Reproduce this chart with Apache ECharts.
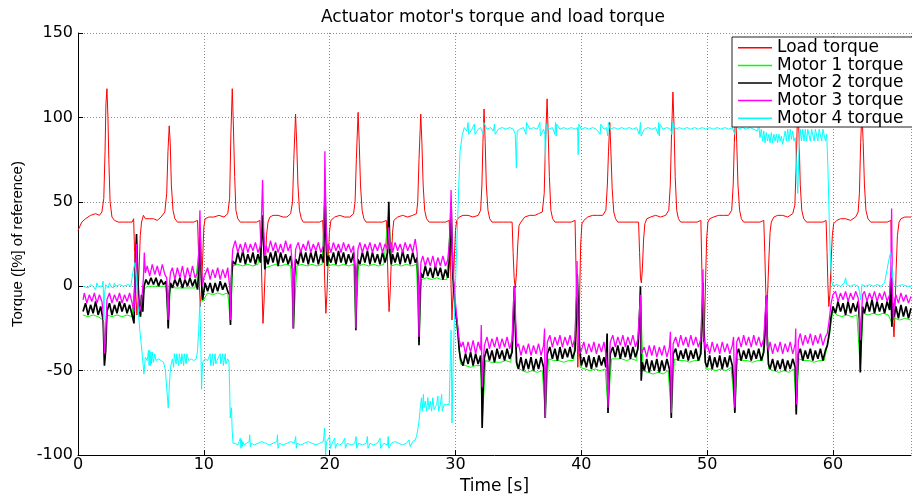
<!DOCTYPE html>
<html>
<head>
<meta charset="utf-8">
<script src="https://cdn.jsdelivr.net/npm/echarts@6/dist/echarts.min.js"></script>
<style>
  html, body { margin: 0; padding: 0; background: #fff; }
  #chart { width: 912px; height: 500px; }
</style>
</head>
<body>
<div id="chart"></div>
<script>
// time [s], torque [% of reference]
const loadTorque = [
  [0,33],[0.3,38],[0.6,40],[1.0,42],[1.4,43],[1.7,42],[1.9,44],[2.05,52],[2.15,80],[2.22,108],[2.3,117],[2.38,100],[2.45,75],[2.55,50],[2.7,41],[2.9,39],[3.2,38],[3.6,38],[4.0,38],[4.3,38],
  [4.42,40],[4.5,20],[4.6,-5],[4.68,-17],[4.78,-5],[4.88,15],[4.95,30],[5.05,38],[5.2,42],[5.35,40],[5.5,39],[5.7,40],[6.0,40],[6.3,39],[6.6,41],[6.9,44],[7.05,55],[7.15,80],[7.25,95],[7.33,85],[7.42,60],[7.55,45],[7.7,40],[7.9,38],[8.3,38],[8.8,38],[9.2,38],
  [9.5,39],[9.58,20],[9.65,0],[9.72,-12],[9.8,-5],[9.9,15],[10.0,35],[10.1,40],[10.4,41],[10.8,41],[11.2,42],[11.6,41],[11.9,43],[12.05,52],[12.15,90],[12.26,117],[12.35,95],[12.45,65],[12.55,45],[12.7,40],[12.9,38],[13.3,38],[13.8,38],[14.2,38],
  [14.45,39],[14.55,20],[14.62,0],[14.7,-22],[14.78,-10],[14.88,10],[14.98,30],[15.1,38],[15.25,41],[15.5,42],[15.9,42],[16.3,41],[16.6,41],[16.9,43],[17.05,50],[17.15,75],[17.29,102],[17.38,85],[17.48,60],[17.6,45],[17.75,40],[17.9,38],[18.3,38],[18.8,38],[19.2,38],
  [19.45,39],[19.55,20],[19.62,0],[19.7,-16],[19.78,-5],[19.88,15],[19.98,32],[20.1,39],[20.4,41],[20.8,42],[21.2,41],[21.6,41],[21.9,43],[22.02,50],[22.12,75],[22.26,103],[22.35,85],[22.45,60],[22.58,45],[22.72,40],[22.9,38],[23.3,38],[23.8,38],[24.2,38],
  [24.5,39],[24.58,20],[24.65,0],[24.72,-15],[24.8,-5],[24.9,15],[25.0,32],[25.1,39],[25.4,41],[25.8,42],[26.2,41],[26.6,42],[26.9,43],[27.0,50],[27.1,75],[27.24,102],[27.33,85],[27.43,60],[27.55,45],[27.7,40],[27.9,38],[28.3,38],[28.8,38],[29.2,38],
  [29.5,39],[29.58,20],[29.65,0],[29.72,-20],[29.8,-5],[29.9,15],[30.0,33],[30.1,39],[30.3,41],[30.6,42],[31.0,42],[31.4,41],[31.8,42],[32.0,45],[32.1,60],[32.18,85],[32.27,105],[32.36,85],[32.45,60],[32.58,45],[32.72,40],[32.9,38],[33.3,38],[33.8,38],[34.2,38],
  [34.5,38],[34.58,20],[34.66,5],[34.75,-1],[34.85,8],[34.95,25],[35.05,36],[35.2,38],[35.5,41],[35.9,42],[36.3,42],[36.6,43],[36.9,44],[37.05,55],[37.15,85],[37.28,111],[37.37,90],[37.46,65],[37.58,45],[37.72,40],[37.9,38],[38.3,38],[38.8,38],[39.2,38],
  [39.5,39],[39.58,10],[39.65,-25],[39.72,-48],[39.8,-30],[39.88,0],[39.95,25],[40.05,37],[40.2,39],[40.5,41],[40.9,42],[41.3,42],[41.7,42],[41.95,45],[42.07,60],[42.16,80],[42.26,97],[42.35,80],[42.45,58],[42.58,44],[42.72,40],[42.9,38],[43.3,38],[43.8,38],[44.2,38],
  [44.55,38],[44.63,20],[44.7,5],[44.77,2],[44.85,10],[44.95,28],[45.05,37],[45.2,40],[45.5,41],[45.9,42],[46.3,41],[46.7,42],[46.95,45],[47.07,60],[47.17,90],[47.28,115],[47.37,95],[47.46,65],[47.58,45],[47.72,40],[47.9,38],[48.3,38],[48.8,38],[49.2,38],
  [49.5,39],[49.58,10],[49.65,-20],[49.72,-33],[49.8,-20],[49.88,5],[49.96,28],[50.06,38],[50.2,40],[50.5,41],[50.9,42],[51.3,42],[51.7,42],[51.95,45],[52.07,60],[52.16,85],[52.26,104],[52.35,85],[52.45,60],[52.58,45],[52.72,40],[52.9,38],[53.3,38],[53.8,38],[54.2,38],
  [54.5,39],[54.58,20],[54.65,0],[54.72,-14],[54.8,-5],[54.9,15],[55.0,32],[55.1,38],[55.3,41],[55.6,42],[56.0,42],[56.4,41],[56.8,43],[56.97,48],[57.07,70],[57.2,108],[57.3,90],[57.4,60],[57.52,45],[57.68,40],[57.9,38],[58.3,38],[58.8,38],[59.2,38],
  [59.45,39],[59.53,20],[59.6,0],[59.67,-12],[59.75,-5],[59.85,15],[59.95,30],[60.05,37],[60.3,39],[60.6,40],[61.0,40],[61.4,39],[61.8,41],[62.0,44],[62.1,55],[62.2,85],[62.3,103],[62.4,85],[62.5,60],[62.62,45],[62.78,40],[63.0,38],[63.4,38],[63.9,38],[64.3,38],
  [64.6,39],[64.68,10],[64.76,-20],[64.85,-30],[64.93,-15],[65.02,10],[65.12,30],[65.25,38],[65.4,40],[65.7,41],[66.0,41],[66.2,41]
];

const motor1 = [
  [0.4,-17],[0.8,-18],[1.2,-17],[1.6,-18],[2.0,-20],[2.1,-45],[2.3,-17],[2.7,-18],[3.1,-17],[3.5,-18],[3.9,-17],[4.3,-18],[4.55,8],[4.65,28],[4.8,-12],[5.0,-18],[5.25,-2],
  [5.5,0],[5.9,0],[6.3,0],[6.7,0],[7.0,0],[7.17,-24],[7.35,0],[7.7,-1],[8.1,-1],[8.5,-1],[8.9,-1],[9.3,-1],[9.7,28],[9.9,-9],[10.3,-4],[10.7,-5],[11.1,-4],[11.5,-5],[11.9,-4],[12.12,-22],
  [12.3,12],[12.7,13],[13.1,12],[13.5,13],[13.9,12],[14.3,13],[14.67,38],[14.9,11],[15.3,12],[15.7,13],[16.1,12],[16.5,13],[16.9,12],[17.12,-24],[17.4,12],[17.8,13],[18.2,12],[18.6,13],[19.0,12],[19.4,13],[19.63,55],
  [19.9,12],[20.3,13],[20.7,12],[21.1,13],[21.5,12],[21.9,13],[22.08,-25],[22.3,12],[22.7,13],[23.1,12],[23.5,13],[23.9,12],[24.3,13],[24.7,45],[24.9,12],[25.3,13],[25.7,12],[26.1,13],[26.5,12],[26.9,13],[27.1,-33],
  [27.3,4],[27.7,5],[28.1,4],[28.5,5],[28.9,4],[29.3,4],[29.65,45],[29.9,-8],[30.2,-30],[30.4,-46],[30.8,-47],[31.2,-48],[31.6,-47],[32.0,-47],[32.12,-82],[32.4,-44],[32.8,-45],[33.2,-45],[33.6,-45],[34.0,-44],[34.4,-45],
  [34.68,-3],[34.9,-48],[35.3,-50],[35.7,-51],[36.1,-50],[36.5,-51],[36.9,-50],[37.13,-76],[37.4,-43],[37.8,-44],[38.2,-44],[38.6,-45],[39.0,-44],[39.4,-44],[39.68,4],[39.9,-48],[40.3,-49],[40.7,-50],[41.1,-49],[41.5,-50],[41.9,-49],
  [42.12,-73],[42.4,-43],[42.8,-43],[43.2,-43],[43.6,-44],[44.0,-43],[44.4,-44],[44.7,-3],[44.9,-50],[45.3,-51],[45.7,-52],[46.1,-51],[46.5,-52],[46.9,-50],[47.15,-76],[47.4,-43],[47.8,-44],[48.2,-44],[48.6,-45],[49.0,-44],[49.4,-44],
  [49.67,0],[49.9,-49],[50.3,-49],[50.7,-50],[51.1,-49],[51.5,-50],[51.9,-48],[52.2,-73],[52.4,-43],[52.8,-44],[53.2,-44],[53.6,-45],[54.0,-44],[54.4,-44],[54.7,-8],[54.9,-49],[55.3,-50],[55.7,-51],[56.1,-50],[56.5,-51],[56.9,-49],
  [57.08,-74],[57.3,-43],[57.7,-44],[58.1,-44],[58.5,-45],[58.9,-44],[59.3,-44],[59.7,-30],[60.0,-14],[60.3,-17],[60.7,-18],[61.1,-17],[61.5,-18],[61.9,-17],[62.17,-49],[62.4,-16],[62.8,-17],[63.2,-16],[63.6,-17],[64.0,-16],[64.4,-17],
  [64.68,-22],[64.9,-19],[65.3,-20],[65.7,-19],[66.2,-20]
];

const motor2 = [
  [0.4,-15],[0.6,-10],[0.8,-17],[1.0,-11],[1.2,-16],[1.4,-9],[1.6,-17],[1.8,-12],[2.0,-20],[2.1,-47],[2.2,-38],[2.3,-15],[2.5,-10],[2.7,-17],[2.9,-11],[3.1,-16],[3.3,-9],[3.5,-15],[3.7,-10],[3.9,-16],[4.1,-11],[4.3,-17],
  [4.45,-22],[4.55,10],[4.65,31],[4.75,5],[4.85,-10],[4.95,-18],[5.05,-5],[5.15,-15],[5.25,0],[5.4,4],
  [5.6,1],[5.8,5],[6.0,1],[6.2,5],[6.4,0],[6.6,4],[6.8,1],[7.0,3],[7.1,-10],[7.17,-25],[7.25,-5],[7.35,2],
  [7.5,-1],[7.7,4],[7.9,0],[8.1,5],[8.3,-1],[8.5,4],[8.7,0],[8.9,5],[9.1,0],[9.3,4],[9.5,-2],[9.6,10],[9.7,32],[9.8,5],[9.9,-8],[10.0,-3],[10.1,2],
  [10.3,-3],[10.5,2],[10.7,-4],[10.9,2],[11.1,-3],[11.3,3],[11.5,-2],[11.7,2],[11.9,-3],[12.05,-5],[12.12,-23],[12.2,5],[12.3,15],
  [12.5,13],[12.7,20],[12.9,14],[13.1,21],[13.3,13],[13.5,19],[13.7,14],[13.9,20],[14.1,13],[14.3,19],[14.5,14],[14.6,30],[14.67,42],[14.75,25],[14.85,10],[14.95,18],
  [15.1,13],[15.3,20],[15.5,14],[15.7,21],[15.9,12],[16.1,20],[16.3,14],[16.5,19],[16.7,13],[16.9,18],[17.05,10],[17.12,-25],[17.2,5],[17.3,16],
  [17.5,13],[17.7,21],[17.9,14],[18.1,20],[18.3,13],[18.5,20],[18.7,14],[18.9,21],[19.1,13],[19.3,19],[19.5,14],[19.58,35],[19.63,60],[19.7,30],[19.8,12],[19.9,18],
  [20.1,14],[20.3,20],[20.5,13],[20.7,21],[20.9,14],[21.1,20],[21.3,13],[21.5,19],[21.7,14],[21.9,20],[22.02,10],[22.08,-26],[22.15,5],[22.25,16],
  [22.4,13],[22.6,20],[22.8,14],[23.0,21],[23.2,13],[23.4,20],[23.6,14],[23.8,19],[24.0,13],[24.2,20],[24.4,14],[24.6,20],[24.7,50],[24.78,20],[24.9,13],[25.0,19],
  [25.2,14],[25.4,20],[25.6,13],[25.8,21],[26.0,14],[26.2,19],[26.4,13],[26.6,20],[26.8,14],[26.95,17],[27.05,0],[27.1,-35],[27.18,-5],[27.25,8],
  [27.4,5],[27.6,12],[27.8,6],[28.0,11],[28.2,5],[28.4,12],[28.6,6],[28.8,11],[29.0,4],[29.2,10],[29.4,5],[29.55,20],[29.65,50],[29.72,25],[29.8,5],[29.9,-5],[30.0,-15],[30.1,-20],[30.2,-28],[30.3,-38],[30.4,-43],
  [30.6,-47],[30.8,-40],[31.0,-46],[31.2,-39],[31.4,-47],[31.6,-40],[31.8,-46],[32.0,-41],[32.08,-55],[32.12,-84],[32.2,-60],[32.3,-42],
  [32.5,-37],[32.7,-44],[32.9,-38],[33.1,-45],[33.3,-37],[33.5,-43],[33.7,-38],[33.9,-44],[34.1,-37],[34.3,-43],[34.5,-39],[34.6,-20],[34.68,0],[34.76,-25],[34.85,-45],
  [35.0,-49],[35.2,-42],[35.4,-50],[35.6,-43],[35.8,-49],[36.0,-42],[36.2,-50],[36.4,-43],[36.6,-49],[36.8,-42],[37.0,-48],[37.08,-60],[37.13,-78],[37.2,-55],[37.3,-40],
  [37.5,-36],[37.7,-43],[37.9,-37],[38.1,-44],[38.3,-36],[38.5,-43],[38.7,-37],[38.9,-42],[39.1,-36],[39.3,-43],[39.5,-38],[39.6,-20],[39.68,7],[39.75,-10],[39.85,-35],[40.0,-47],
  [40.2,-42],[40.4,-48],[40.6,-41],[40.8,-49],[41.0,-42],[41.2,-48],[41.4,-41],[41.6,-47],[41.8,-42],[41.95,-48],[42.05,-28],[42.12,-75],[42.2,-55],[42.3,-40],
  [42.5,-36],[42.7,-42],[42.9,-35],[43.1,-43],[43.3,-36],[43.5,-42],[43.7,-35],[43.9,-43],[44.1,-36],[44.3,-42],[44.5,-37],[44.62,-20],[44.7,0],[44.76,-56],[44.85,-45],
  [45.0,-50],[45.2,-43],[45.4,-51],[45.6,-44],[45.8,-50],[46.0,-43],[46.2,-51],[46.4,-44],[46.6,-50],[46.8,-43],[47.0,-49],[47.1,-60],[47.15,-78],[47.22,-55],[47.3,-40],
  [47.5,-37],[47.7,-44],[47.9,-38],[48.1,-43],[48.3,-37],[48.5,-44],[48.7,-38],[48.9,-43],[49.1,-37],[49.3,-44],[49.5,-40],[49.6,-20],[49.67,2],[49.74,-25],[49.85,-45],
  [50.0,-48],[50.2,-41],[50.4,-49],[50.6,-42],[50.8,-48],[51.0,-41],[51.2,-49],[51.4,-42],[51.6,-48],[51.8,-41],[52.0,-47],[52.12,-58],[52.2,-75],[52.28,-55],[52.35,-40],
  [52.5,-37],[52.7,-44],[52.9,-38],[53.1,-43],[53.3,-37],[53.5,-44],[53.7,-38],[53.9,-43],[54.1,-37],[54.3,-44],[54.5,-39],[54.62,-25],[54.7,-6],[54.77,-30],[54.87,-46],
  [55.0,-49],[55.2,-43],[55.4,-50],[55.6,-44],[55.8,-49],[56.0,-43],[56.2,-50],[56.4,-44],[56.6,-49],[56.8,-43],[57.0,-48],[57.04,-60],[57.08,-76],[57.15,-55],[57.25,-40],
  [57.4,-37],[57.6,-44],[57.8,-38],[58.0,-43],[58.2,-37],[58.4,-44],[58.6,-38],[58.8,-43],[59.0,-37],[59.2,-44],[59.4,-38],[59.55,-35],[59.7,-28],[59.85,-18],[60.0,-12],
  [60.2,-16],[60.4,-9],[60.6,-15],[60.8,-10],[61.0,-17],[61.2,-9],[61.4,-16],[61.6,-10],[61.8,-15],[62.0,-9],[62.1,-20],[62.17,-51],[62.25,-30],[62.35,-12],
  [62.5,-16],[62.7,-9],[62.9,-15],[63.1,-8],[63.3,-16],[63.5,-9],[63.7,-15],[63.9,-10],[64.1,-16],[64.3,-9],[64.5,-14],[64.6,5],[64.68,-24],[64.75,-10],[64.85,-18],
  [65.0,-12],[65.2,-19],[65.4,-11],[65.6,-18],[65.8,-12],[66.0,-19],[66.2,-13]
];

const motor3 = [
  [0.4,-8],[0.5,-4],[0.7,-10],[0.9,-5],[1.1,-9],[1.3,-4],[1.5,-10],[1.7,-5],[1.9,-9],[2.0,-15],[2.1,-40],[2.2,-30],[2.3,-8],[2.5,-4],[2.7,-10],[2.9,-5],[3.1,-9],[3.3,-4],[3.5,-10],[3.7,-5],[3.9,-9],[4.1,-4],[4.3,-10],
  [4.45,-15],[4.55,5],[4.65,25],[4.75,-5],[4.9,-15],[5.05,-10],[5.2,5],[5.27,20],[5.35,8],
  [5.5,12],[5.7,6],[5.9,13],[6.1,7],[6.3,12],[6.5,6],[6.7,13],[6.9,7],[7.05,5],[7.15,-20],[7.25,0],[7.35,8],
  [7.5,11],[7.7,4],[7.9,11],[8.1,5],[8.3,12],[8.5,4],[8.7,11],[8.9,5],[9.1,12],[9.3,5],[9.5,8],[9.6,20],[9.69,45],[9.78,15],[9.9,0],[10.0,5],[10.15,8],
  [10.3,11],[10.5,4],[10.7,10],[10.9,5],[11.1,11],[11.3,4],[11.5,10],[11.7,5],[11.9,11],[12.05,0],[12.12,-20],[12.2,10],[12.3,22],
  [12.5,27],[12.7,20],[12.9,25],[13.1,20],[13.3,26],[13.5,20],[13.7,25],[13.9,21],[14.1,26],[14.3,20],[14.5,24],[14.6,45],[14.67,63],[14.75,35],[14.85,18],[14.95,24],
  [15.1,20],[15.3,27],[15.5,21],[15.7,26],[15.9,20],[16.1,25],[16.3,20],[16.5,27],[16.7,21],[16.9,25],[17.05,10],[17.1,-25],[17.18,5],[17.3,22],
  [17.5,26],[17.7,20],[17.9,25],[18.1,21],[18.3,27],[18.5,20],[18.7,25],[18.9,21],[19.1,26],[19.3,20],[19.5,24],[19.58,50],[19.62,80],[19.7,40],[19.8,20],[19.9,25],
  [20.1,20],[20.3,26],[20.5,21],[20.7,25],[20.9,20],[21.1,26],[21.3,21],[21.5,25],[21.7,20],[21.9,24],[22.02,10],[22.08,-25],[22.15,5],[22.25,22],
  [22.4,26],[22.6,20],[22.8,25],[23.0,21],[23.2,26],[23.4,20],[23.6,25],[23.8,21],[24.0,26],[24.2,20],[24.4,25],[24.6,22],[24.7,35],[24.8,22],[24.9,26],[25.0,20],
  [25.2,26],[25.4,21],[25.6,25],[25.8,20],[26.0,26],[26.2,21],[26.4,25],[26.6,20],[26.8,28],[26.95,20],[27.05,0],[27.1,-30],[27.18,0],[27.25,14],
  [27.4,18],[27.6,12],[27.8,17],[28.0,12],[28.2,18],[28.4,11],[28.6,17],[28.8,12],[29.0,18],[29.2,12],[29.4,16],[29.55,30],[29.65,57],[29.72,30],[29.8,10],[29.9,0],[30.0,-10],[30.1,-18],[30.2,-25],[30.3,-32],[30.45,-36],
  [30.6,-33],[30.8,-40],[31.0,-33],[31.2,-39],[31.4,-32],[31.6,-40],[31.8,-33],[32.0,-38],[32.05,-23],[32.12,-60],[32.2,-45],[32.3,-35],
  [32.5,-30],[32.7,-37],[32.9,-31],[33.1,-36],[33.3,-30],[33.5,-37],[33.7,-31],[33.9,-36],[34.1,-30],[34.3,-37],[34.5,-32],[34.6,-10],[34.7,0],[34.78,-20],[34.88,-36],
  [35.0,-34],[35.2,-41],[35.4,-35],[35.6,-40],[35.8,-34],[36.0,-41],[36.2,-35],[36.4,-40],[36.6,-34],[36.8,-41],[37.0,-35],[37.08,-25],[37.13,-78],[37.2,-50],[37.3,-33],
  [37.5,-29],[37.7,-36],[37.9,-30],[38.1,-35],[38.3,-29],[38.5,-36],[38.7,-30],[38.9,-35],[39.1,-29],[39.3,-36],[39.5,-30],[39.6,-5],[39.66,15],[39.73,-20],[39.82,-40],[40.0,-38],
  [40.2,-33],[40.4,-40],[40.6,-34],[40.8,-39],[41.0,-33],[41.2,-40],[41.4,-34],[41.6,-39],[41.8,-33],[41.95,-40],[42.05,-50],[42.12,-72],[42.2,-50],[42.3,-33],
  [42.5,-29],[42.7,-36],[42.9,-30],[43.1,-35],[43.3,-29],[43.5,-36],[43.7,-30],[43.9,-35],[44.1,-29],[44.3,-36],[44.5,-31],[44.62,-15],[44.7,-5],[44.78,-40],[44.88,-38],
  [45.0,-36],[45.2,-42],[45.4,-35],[45.6,-41],[45.8,-35],[46.0,-42],[46.2,-36],[46.4,-41],[46.6,-35],[46.8,-42],[47.0,-36],[47.08,-27],[47.15,-75],[47.22,-50],[47.3,-34],
  [47.5,-30],[47.7,-36],[47.9,-29],[48.1,-35],[48.3,-30],[48.5,-36],[48.7,-29],[48.9,-35],[49.1,-30],[49.3,-36],[49.5,-31],[49.6,-10],[49.67,10],[49.74,-30],[49.85,-38],
  [50.0,-34],[50.2,-40],[50.4,-33],[50.6,-39],[50.8,-34],[51.0,-40],[51.2,-33],[51.4,-39],[51.6,-34],[51.8,-40],[52.0,-35],[52.1,-30],[52.2,-72],[52.28,-50],[52.35,-33],
  [52.5,-30],[52.7,-36],[52.9,-29],[53.1,-35],[53.3,-30],[53.5,-36],[53.7,-29],[53.9,-35],[54.1,-30],[54.3,-36],[54.5,-31],[54.62,-15],[54.7,-5],[54.78,-35],[54.88,-38],
  [55.0,-33],[55.2,-40],[55.4,-34],[55.6,-39],[55.8,-33],[56.0,-40],[56.2,-34],[56.4,-39],[56.6,-33],[56.8,-40],[57.0,-34],[57.04,-25],[57.1,-70],[57.18,-50],[57.25,-32],
  [57.4,-28],[57.6,-35],[57.8,-29],[58.0,-34],[58.2,-28],[58.4,-35],[58.6,-29],[58.8,-34],[59.0,-28],[59.2,-35],[59.4,-30],[59.55,-28],[59.7,-20],[59.85,-10],[60.0,-5],
  [60.2,-3],[60.4,-9],[60.6,-4],[60.8,-8],[61.0,-3],[61.2,-9],[61.4,-4],[61.6,-8],[61.8,-3],[62.0,-7],[62.1,-15],[62.17,-32],[62.25,-20],[62.35,-5],
  [62.5,-3],[62.7,-9],[62.9,-4],[63.1,-8],[63.3,-3],[63.5,-9],[63.7,-4],[63.9,-8],[64.1,-3],[64.3,-9],[64.5,-5],[64.6,10],[64.66,46],[64.72,0],[64.8,-20],[64.9,-8],
  [65.0,-5],[65.2,-10],[65.4,-4],[65.6,-9],[65.8,-5],[66.0,-10],[66.2,-6]
];

const motor4 = [
  [0.4,0],[0.8,-1],[1.0,1],[1.2,0],[1.4,-2],[1.5,2],[1.6,0],[1.9,0],[2.0,3],[2.05,-20],[2.1,-5],[2.2,1],[2.4,-1],[2.5,2],[2.6,0],[2.8,-1],[2.9,2],[3.0,0],[3.3,1],[3.6,0],[4.0,1],[4.2,0],
  [4.35,8],[4.52,14],[4.65,5],[4.75,-10],[4.9,-25],[5.1,-40],[5.24,-52],[5.35,-42],[5.5,-44],[5.6,-38],[5.65,-47],[5.7,-38],[5.75,-47],[5.8,-39],[5.85,-46],[5.9,-39],[6.0,-45],[6.1,-40],[6.2,-44],[6.4,-43],[6.6,-44],[6.8,-45],
  [6.95,-50],[7.1,-65],[7.17,-72],[7.25,-60],[7.35,-48],[7.5,-43],[7.6,-48],[7.65,-40],[7.8,-46],[7.85,-40],[8.0,-47],[8.05,-40],[8.2,-46],[8.25,-40],[8.4,-47],[8.45,-40],[8.6,-46],[8.65,-40],[8.8,-44],[9.0,-43],[9.2,-44],[9.4,-43],
  [9.5,-38],[9.6,-25],[9.68,-9],[9.75,-30],[9.82,-61],[9.9,-45],[10.1,-43],[10.3,-44],[10.5,-40],[10.55,-47],[10.7,-40],[10.75,-47],[10.9,-40],[10.95,-46],[11.1,-43],[11.3,-40],[11.35,-46],[11.5,-40],[11.55,-47],[11.7,-40],[11.75,-46],[11.9,-43],[12.0,-45],
  [12.05,-60],[12.1,-78],[12.15,-74],[12.2,-72],[12.25,-85],[12.32,-93],[12.5,-93],[12.6,-92],[12.7,-94],[12.8,-92],[12.9,-90],[12.95,-96],[13.0,-91],[13.05,-95],[13.1,-92],[13.2,-94],[13.4,-93],[13.6,-92],[13.65,-88],[13.7,-95],[13.8,-93],
  [14.0,-94],[14.3,-93],[14.6,-92],[14.9,-93],[15.2,-94],[15.5,-93],[15.8,-92],[15.85,-88],[15.9,-96],[16.0,-93],[16.3,-94],[16.6,-93],[16.9,-92],[17.2,-93],[17.3,-89],[17.35,-96],[17.4,-93],[17.7,-94],[18.0,-93],[18.3,-92],[18.6,-93],[18.9,-94],[19.2,-93],
  [19.5,-92],[19.6,-84],[19.68,-100],[19.75,-92],[19.9,-93],[20.0,-89],[20.05,-96],[20.2,-93],[20.4,-90],[20.45,-96],[20.6,-93],[20.8,-94],[21.0,-93],[21.2,-90],[21.25,-96],[21.4,-93],[21.7,-94],[22.0,-93],[22.1,-89],[22.15,-96],[22.3,-93],
  [22.6,-94],[22.9,-93],[23.0,-89],[23.05,-96],[23.2,-93],[23.5,-94],[23.8,-93],[24.0,-90],[24.05,-96],[24.3,-93],[24.6,-94],[24.65,-89],[24.7,-96],[24.9,-93],[25.2,-92],[25.5,-93],[25.8,-94],[26.1,-93],[26.3,-91],[26.4,-95],[26.6,-92],[26.8,-91],[26.9,-89],
  [27.0,-85],[27.1,-80],[27.2,-72],[27.3,-66],[27.35,-74],[27.45,-64],[27.5,-72],[27.6,-68],[27.7,-74],[27.8,-66],[27.9,-73],[28.0,-68],[28.1,-74],[28.2,-66],[28.3,-73],[28.5,-70],[28.6,-65],[28.65,-74],[28.8,-70],[28.9,-64],[28.95,-74],[29.1,-70],[29.3,-70],
  [29.5,-70],[29.6,-40],[29.65,-26],[29.72,-81],[29.8,-50],[29.94,-12],[30.2,46],[30.36,80],[30.55,90],[30.7,94],
  [30.9,92],[31.0,97],[31.05,90],[31.3,93],[31.5,96],[31.55,90],[31.8,93],[32.0,94],[32.2,90],[32.25,97],[32.5,93],[32.8,94],[33.0,92],[33.1,96],[33.15,90],[33.4,93],[33.7,94],[34.0,93],[34.3,94],[34.6,93],[34.75,90],[34.84,70],[34.9,92],
  [35.1,93],[35.4,94],[35.6,90],[35.65,97],[35.9,93],[36.2,94],[36.5,93],[36.7,97],[36.75,89],[37.0,93],[37.1,90],[37.15,74],[37.2,96],[37.4,93],[37.7,94],[37.9,90],[37.95,97],[38.0,89],[38.05,96],[38.3,93],[38.6,94],[38.9,93],[39.2,94],[39.5,93],
  [39.7,94],[39.75,78],[39.8,96],[40.0,93],[40.3,94],[40.6,93],[40.9,94],[41.2,93],[41.5,90],[41.55,96],[41.8,93],[42.0,94],[42.1,89],[42.15,97],[42.3,93],[42.6,94],[42.9,93],[43.2,94],[43.5,93],[43.8,94],[44.1,93],[44.4,94],[44.6,90],[44.7,97],[44.75,89],
  [45.0,93],[45.3,94],[45.6,93],[45.9,94],[46.1,90],[46.15,97],[46.2,89],[46.25,96],[46.5,93],[46.8,94],[47.1,93],[47.2,90],[47.25,97],[47.5,93],[47.8,94],[48.1,93],[48.4,94],[48.7,93],[49.0,94],[49.3,93],[49.6,94],[49.9,93],[50.2,94],[50.5,93],
  [50.8,94],[51.1,93],[51.4,94],[51.7,93],[52.0,94],[52.2,90],[52.25,96],[52.5,93],[52.8,94],[53.1,93],[53.4,94],[53.7,93],[54.0,92],[54.1,96],[54.2,88],[54.3,93],[54.4,86],[54.5,92],[54.6,85],[54.7,91],[54.8,86],[54.9,90],[55.0,85],[55.1,91],
  [55.2,85],[55.3,90],[55.4,86],[55.5,90],[55.6,85],[55.7,90],[55.8,86],[55.9,89],[56.0,84],[56.1,88],[56.2,92],[56.3,86],[56.4,93],[56.5,86],[56.6,93],[56.7,87],[56.8,92],[56.9,86],[57.0,88],[57.1,70],[57.2,55],[57.3,80],[57.4,93],
  [57.5,86],[57.6,93],[57.7,86],[57.8,93],[57.9,86],[58.0,93],[58.2,86],[58.3,93],[58.5,86],[58.6,93],[58.8,86],[58.9,93],[59.1,86],[59.2,93],[59.4,86],[59.5,90],[59.6,70],[59.7,40],[59.8,15],[59.9,3],[60.0,0],
  [60.3,1],[60.6,0],[60.9,2],[61.0,5],[61.1,1],[61.4,0],[61.7,1],[62.0,0],[62.1,-3],[62.2,-8],[62.3,1],[62.6,0],[62.9,1],[63.2,0],[63.5,1],[63.8,0],[64.1,2],[64.3,10],[64.5,18],[64.6,20],[64.7,10],[64.8,1],[65.1,0],[65.5,1],[65.9,0],[66.2,0]
];

const seriesNames = ['Load torque', 'Motor 1 torque', 'Motor 2 torque', 'Motor 3 torque', 'Motor 4 torque'];
const seriesData = [loadTorque, motor1, motor2, motor3, motor4];
const seriesColors = ['#ff0000', '#00ff00', '#000000', '#ff00ff', '#00ffff'];
const seriesWidths = [1, 1, 1.7, 1.3, 1];

const chart = echarts.init(document.getElementById('chart'), null, { renderer: 'canvas' });

const option = {
  animation: false,
  backgroundColor: '#fff',
  title: {
    text: "Actuator motor's torque and load torque",
    left: 321,
    top: 9,
    padding: 0,
    textStyle: { fontFamily: 'DejaVu Sans', fontSize: 17, fontWeight: 'normal', color: '#000' }
  },
  legend: {
    orient: 'vertical',
    left: 732,
    top: 37,
    padding: [2, 10, 0, 6],
    itemGap: 0,
    itemWidth: 34,
    itemHeight: 1.5,
    icon: 'rect',
    backgroundColor: '#fff',
    borderColor: '#222',
    borderWidth: 1,
    borderRadius: 0,
    textStyle: { fontFamily: 'DejaVu Sans', fontSize: 17, color: '#000', lineHeight: 17.6 },
    data: seriesNames
  },
  grid: { left: 78, right: 1, top: 33, bottom: 34, containLabel: false },
  xAxis: {
    type: 'value',
    min: 0,
    max: 66.2,
    interval: 10,
    name: 'Time [s]',
    nameLocation: 'middle',
    nameGap: 18,
    nameTextStyle: { fontFamily: 'DejaVu Sans', fontSize: 17, color: '#000' },
    axisLine: { show: true, onZero: false, lineStyle: { color: '#000', width: 1 } },
    axisTick: { show: true, inside: true, length: 5, lineStyle: { color: '#000' } },
    axisLabel: { margin: 2, showMaxLabel: false, fontFamily: 'DejaVu Sans', fontSize: 16, color: '#000' },
    splitLine: { show: true, lineStyle: { color: '#8c8c8c', width: 1, type: [1, 2] } }
  },
  yAxis: {
    type: 'value',
    min: -100,
    max: 150,
    interval: 50,
    name: 'Torque ([%] of reference)',
    nameLocation: 'middle',
    nameGap: 50,
    nameTextStyle: { fontFamily: 'Liberation Sans', fontSize: 15, color: '#000' },
    axisLine: { show: true, onZero: false, lineStyle: { color: '#000', width: 1 } },
    axisTick: { show: true, inside: true, length: 5, lineStyle: { color: '#000' } },
    axisLabel: { margin: 5, fontFamily: 'DejaVu Sans', fontSize: 16, color: '#000' },
    splitLine: { show: true, lineStyle: { color: '#8c8c8c', width: 1, type: [1, 2] } }
  },
  series: seriesNames.map((name, i) => ({
    name: name,
    type: 'line',
    data: seriesData[i],
    symbol: 'none',
    showSymbol: false,
    color: seriesColors[i],
    lineStyle: { color: seriesColors[i], width: seriesWidths[i] },
    emphasis: { disabled: true },
    silent: true
  }))
};

chart.setOption(option);
</script>
</body>
</html>
